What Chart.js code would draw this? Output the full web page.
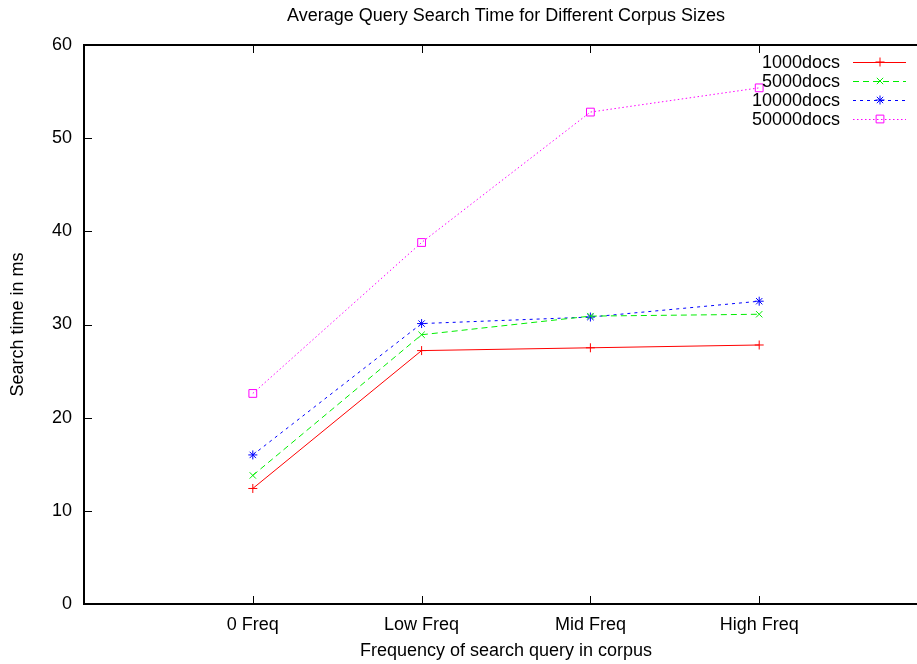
<!DOCTYPE html>
<html>
<head>
<meta charset="utf-8">
<title>Average Query Search Time</title>
<script src="https://cdn.jsdelivr.net/npm/chart.js@4.4.0/dist/chart.umd.min.js"></script>
<style>
  html, body { margin: 0; padding: 0; background: #fff; overflow: hidden; }
  #wrap { width: 935px; height: 664px; }
</style>
</head>
<body>
<div id="wrap"><canvas id="chart" width="935" height="664"></canvas></div>
<script>
// categories on the x axis (positions 0..3, axis runs -1..4 like gnuplot)
const categories = ['0 Freq', 'Low Freq', 'Mid Freq', 'High Freq'];

// search time in ms
const docs1000 = [12.4, 27.2, 27.5, 27.8];
const docs5000 = [13.8, 28.9, 30.9, 31.1];
const docs10000 = [16.0, 30.1, 30.8, 32.5];
const docs50000 = [22.6, 38.8, 52.8, 55.4];

const yTicks = [0, 10, 20, 30, 40, 50, 60];

const chartTitle = 'Average Query Search Time for Different Corpus Sizes';

const FONT = '"Liberation Sans", Arial, Helvetica, sans-serif';
const FONT_SIZE = 18;
const TICK_LEN = 8;

function toPoints(values) {
  return values.map((v, i) => ({ x: i, y: v }));
}

const series = [
  { label: '1000docs', data: docs1000, color: '#ff0000', dash: [], style: 'cross', radius: 4.5 },
  { label: '5000docs', data: docs5000, color: '#00ee00', dash: [6, 4], style: 'crossRot', radius: 4.5 },
  { label: '10000docs', data: docs10000, color: '#0000ff', dash: [3, 4], style: 'star', radius: 4.5 },
  { label: '50000docs', data: docs50000, color: '#ff00ff', dash: [1.5, 2.5], style: 'rect', radius: 5.5 }
];

// title over the plot, frame, inward ticks and the gnuplot-like legend
const framePlugin = {
  id: 'frame',
  afterDatasetsDraw(chart) {
    const { ctx, chartArea: a, scales } = chart;
    ctx.save();

    ctx.font = FONT_SIZE + 'px ' + FONT;
    ctx.fillStyle = '#000';
    ctx.textAlign = 'center';
    ctx.textBaseline = 'middle';
    ctx.fillText(chartTitle, (a.left + a.right) / 2, 16);

    ctx.strokeStyle = '#000';
    ctx.lineWidth = 2;
    ctx.setLineDash([]);
    ctx.strokeRect(a.left, a.top, a.right - a.left, a.bottom - a.top);

    ctx.lineWidth = 1;
    ctx.beginPath();
    categories.forEach((c, i) => {
      const x = Math.round(scales.x.getPixelForValue(i)) + 0.5;
      ctx.moveTo(x, a.bottom);
      ctx.lineTo(x, a.bottom - TICK_LEN);
      ctx.moveTo(x, a.top);
      ctx.lineTo(x, a.top + TICK_LEN);
    });
    yTicks.forEach(v => {
      const y = Math.round(scales.y.getPixelForValue(v)) + 0.5;
      ctx.moveTo(a.left, y);
      ctx.lineTo(a.left + TICK_LEN, y);
      ctx.moveTo(a.right, y);
      ctx.lineTo(a.right - TICK_LEN, y);
    });
    ctx.stroke();

    // legend
    ctx.textAlign = 'right';
    series.forEach((s, i) => {
      const y = 62 + i * 19;
      ctx.fillStyle = '#000';
      ctx.fillText(s.label, 840, y + 1);
      ctx.strokeStyle = s.color;
      ctx.lineWidth = 1;
      ctx.setLineDash(s.dash);
      ctx.beginPath();
      ctx.moveTo(853, y + 0.5);
      ctx.lineTo(906, y + 0.5);
      ctx.stroke();
      ctx.setLineDash([]);
      ctx.fillStyle = 'rgba(0,0,0,0)';
      Chart.helpers.drawPoint(ctx, {
        pointStyle: s.style,
        radius: s.radius,
        rotation: 0,
        borderWidth: 1
      }, 880, y);
    });
    ctx.restore();
  }
};

new Chart(document.getElementById('chart'), {
  type: 'line',
  data: {
    datasets: series.map(s => ({
      label: s.label,
      data: toPoints(s.data),
      borderColor: s.color,
      backgroundColor: 'rgba(0,0,0,0)',
      borderWidth: 1,
      borderDash: s.dash,
      pointStyle: s.style,
      pointRadius: s.radius,
      pointBorderColor: s.color,
      pointBorderWidth: 1,
      pointBackgroundColor: 'rgba(0,0,0,0)',
      tension: 0,
      fill: false
    }))
  },
  options: {
    responsive: false,
    animation: false,
    layout: { padding: { left: 0, right: 7, top: 45, bottom: 0 } },
    plugins: {
      legend: { display: false },
      tooltip: { enabled: false },
      title: { display: false }
    },
    scales: {
      x: {
        type: 'linear',
        min: -1,
        max: 4,
        afterBuildTicks: scale => {
          scale.ticks = categories.map((c, i) => ({ value: i }));
        },
        afterFit: scale => { scale.height = 60; },
        grid: { display: false, drawTicks: false },
        border: { display: false },
        ticks: {
          color: '#000',
          padding: 10,
          maxRotation: 0,
          autoSkip: false,
          font: { family: FONT, size: FONT_SIZE },
          callback: v => categories[v] ?? ''
        },
        title: {
          display: true,
          text: 'Frequency of search query in corpus',
          color: '#000',
          font: { family: FONT, size: FONT_SIZE },
          padding: { top: 0, bottom: 2 }
        }
      },
      y: {
        min: 0,
        max: 60,
        afterBuildTicks: scale => {
          scale.ticks = yTicks.map(v => ({ value: v }));
        },
        afterFit: scale => { scale.width = 84; },
        grid: { display: false, drawTicks: false },
        border: { display: false },
        ticks: {
          color: '#000',
          padding: 12,
          font: { family: FONT, size: FONT_SIZE }
        },
        title: {
          display: true,
          text: 'Search time in ms',
          color: '#000',
          font: { family: FONT, size: FONT_SIZE },
          padding: { top: 7, bottom: 0 }
        }
      }
    }
  },
  plugins: [framePlugin]
});
</script>
</body>
</html>
